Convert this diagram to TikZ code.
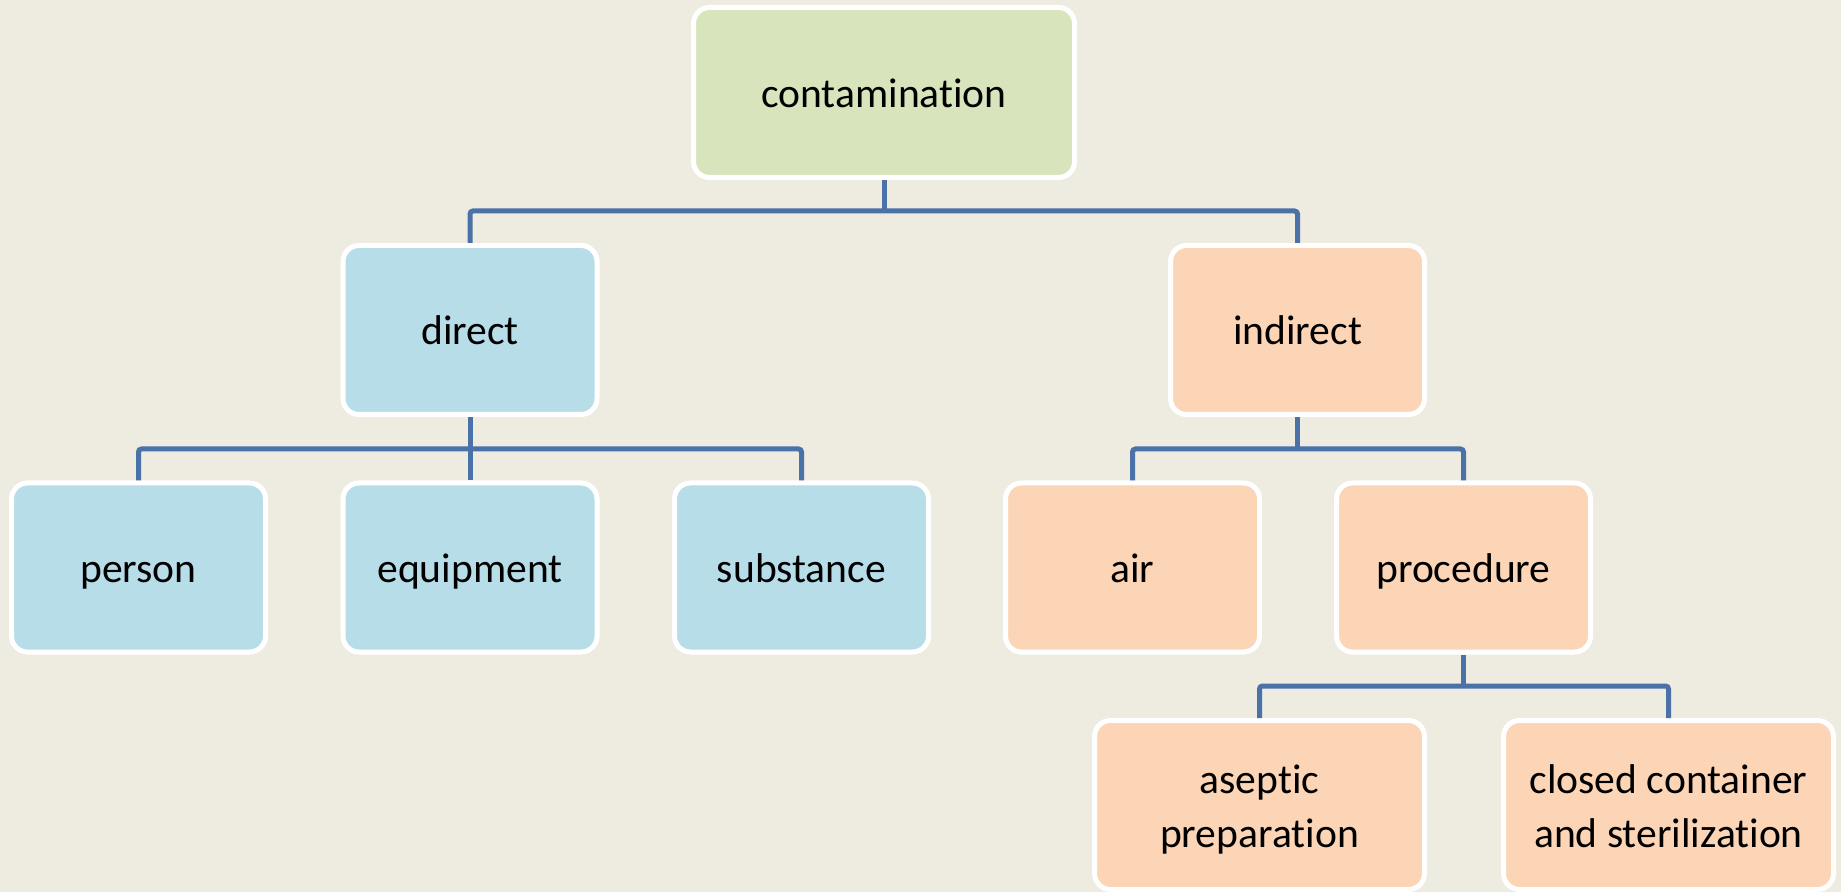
\documentclass[tikz,border=0pt]{standalone}
\usepackage{fontspec}
\setmainfont{Carlito}[Ligatures=NoCommon]
\usetikzlibrary{positioning}
\definecolor{paper}{HTML}{EEEBE0}
\definecolor{topgreen}{HTML}{D8E4BC}
\definecolor{leftblue}{HTML}{B7DDE8}
\definecolor{rightpeach}{HTML}{FBD5B5}
\definecolor{linkblue}{HTML}{4A72A8}

\begin{document}
\begin{tikzpicture}[x=0.5pt,y=-0.5pt,
	box/.style={draw=white,line width=2.5pt,rounded corners=8pt,minimum width=127pt,minimum height=84.5pt,
		inner sep=0pt,align=center,text=black,text height=18.5pt,text depth=3.5pt,
		font=\fontsize{20.8}{27}\selectfont},
	twoline/.style={box,minimum width=165pt,text height=45.5pt},
	link/.style={draw=linkblue,line width=2.5pt,rounded corners=1.5pt}]
	\fill[paper] (0,0) rectangle (1841,892);
	\useasboundingbox (0,0) rectangle (1841,892);
	
	\node[box,fill=topgreen,minimum width=190.5pt,minimum height=85pt] (cont) at (884,92.5) {contamination};
	
	\node[box,fill=leftblue] (direct) at (470,330) {direct};
	\node[box,fill=rightpeach] (indirect) at (1297.5,330) {indirect};
	
	\node[box,fill=leftblue] (person) at (138.5,567.5) {person};
	\node[box,fill=leftblue] (equip) at (470,567.5) {equipment};
	\node[box,fill=leftblue] (subst) at (801.5,567.5) {substance};
	\node[box,fill=rightpeach] (air) at (1132.5,567.5) {air};
	\node[box,fill=rightpeach] (proc) at (1463.5,567.5) {procedure};
	
	\node[twoline,fill=rightpeach] (aseptic) at (1259.5,805) {aseptic\\preparation};
	\node[twoline,fill=rightpeach] (closed) at (1668.5,805) {closed container\\and sterilization};
	
	\coordinate (bar1) at (0,211);
	\coordinate (bar2) at (0,449);
	\coordinate (bar3) at (0,686);
	
	\draw[link] (cont.south) -- (cont.south |- bar1);
	\draw[link] (direct.north) |- (bar1 -| indirect.north) -- (indirect.north);
	
	\draw[link] (direct.south) -- (equip.north);
	\draw[link] (person.north) |- (bar2 -| subst.north) -- (subst.north);
	
	\draw[link] (indirect.south) -- (indirect.south |- bar2);
	\draw[link] (air.north) |- (bar2 -| proc.north) -- (proc.north);
	
	\draw[link] (proc.south) -- (proc.south |- bar3);
	\draw[link] (aseptic.north) |- (bar3 -| closed.north) -- (closed.north);
\end{tikzpicture}
\end{document}
